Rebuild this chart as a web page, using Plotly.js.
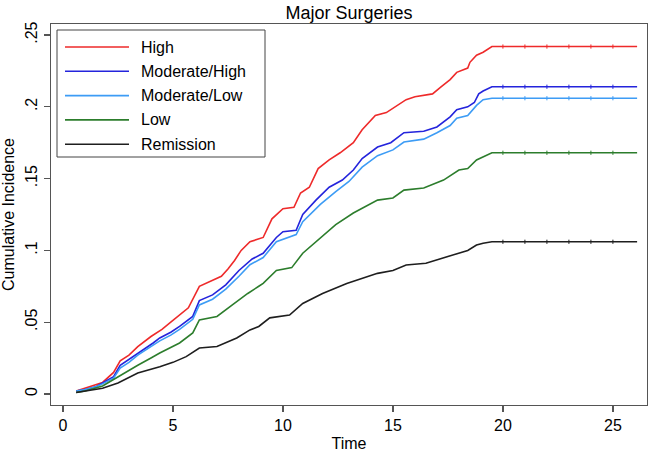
<!DOCTYPE html>
<html>
<head>
<meta charset="utf-8">
<script src="https://cdn.plot.ly/plotly-3.0.1.min.js"></script>
<style>html,body{margin:0;padding:0;background:#fff;}#chart{width:650px;height:454px;}</style>
</head>
<body>
<div id="chart"></div>
<script>
// Series names
var seriesNames = ["High", "Moderate/High", "Moderate/Low", "Low", "Remission"];

// High
var highT = [0.6, 1.0, 1.5, 1.8, 2.3, 2.6, 3.0, 3.4, 4.0, 4.5, 4.9, 5.3, 5.7, 6.2, 6.8, 7.2, 7.5, 7.8, 8.1, 8.5, 9.1, 9.5, 10.0, 10.5, 10.8, 11.2, 11.6, 12.1, 12.6, 13.2, 13.6, 14.2, 14.7, 15.3, 15.6, 16.0, 16.8, 17.2, 17.6, 17.9, 18.4, 18.5, 18.8, 19.1, 19.5, 26.1];
var highV = [0.002, 0.004, 0.006, 0.008, 0.015, 0.023, 0.027, 0.033, 0.040, 0.045, 0.050, 0.055, 0.060, 0.075, 0.079, 0.082, 0.087, 0.093, 0.100, 0.106, 0.109, 0.122, 0.129, 0.130, 0.140, 0.144, 0.157, 0.163, 0.168, 0.175, 0.184, 0.194, 0.196, 0.202, 0.205, 0.207, 0.209, 0.214, 0.219, 0.224, 0.227, 0.231, 0.236, 0.238, 0.242, 0.242];

// Moderate/High
var modHighT = [0.6, 1.0, 1.5, 1.8, 2.3, 2.6, 3.0, 3.4, 4.1, 4.4, 4.9, 5.3, 5.9, 6.2, 6.8, 7.4, 8.0, 8.6, 9.1, 9.7, 10.0, 10.6, 10.9, 11.5, 12.1, 12.7, 13.2, 13.6, 14.3, 14.9, 15.5, 16.4, 17.0, 17.6, 17.9, 18.4, 18.7, 18.9, 19.1, 19.5, 26.1];
var modHighV = [0.002, 0.003, 0.005, 0.0077, 0.012, 0.020, 0.024, 0.0285, 0.0355, 0.039, 0.043, 0.047, 0.054, 0.065, 0.069, 0.076, 0.086, 0.094, 0.098, 0.109, 0.113, 0.114, 0.125, 0.135, 0.144, 0.149, 0.156, 0.164, 0.172, 0.175, 0.182, 0.183, 0.186, 0.193, 0.198, 0.200, 0.203, 0.209, 0.211, 0.214, 0.214];

// Moderate/Low
var modLowT = [0.6, 1.0, 1.5, 1.8, 2.3, 2.6, 3.0, 3.4, 4.1, 4.4, 4.9, 5.3, 5.9, 6.2, 6.8, 7.4, 8.0, 8.5, 9.1, 9.7, 10.6, 10.9, 11.7, 12.4, 13.0, 13.6, 14.3, 15.0, 15.5, 16.4, 17.0, 17.6, 17.9, 18.4, 18.8, 19.1, 19.5, 26.1];
var modLowV = [0.002, 0.003, 0.005, 0.007, 0.011, 0.018, 0.022, 0.027, 0.034, 0.037, 0.041, 0.045, 0.052, 0.062, 0.066, 0.073, 0.082, 0.090, 0.095, 0.106, 0.111, 0.120, 0.132, 0.141, 0.148, 0.158, 0.166, 0.170, 0.1755, 0.1775, 0.182, 0.187, 0.192, 0.194, 0.201, 0.205, 0.206, 0.206];

// Low
var lowT = [0.6, 1.0, 1.8, 2.5, 3.0, 3.4, 4.0, 4.4, 5.3, 5.9, 6.2, 7.0, 7.7, 8.4, 8.9, 9.1, 9.7, 10.4, 10.9, 11.7, 12.4, 13.2, 14.3, 15.0, 15.5, 16.4, 17.3, 18.0, 18.4, 18.8, 19.1, 19.5, 26.1];
var lowV = [0.001, 0.002, 0.0056, 0.012, 0.016, 0.020, 0.025, 0.0285, 0.0355, 0.0425, 0.0515, 0.054, 0.062, 0.070, 0.075, 0.077, 0.086, 0.088, 0.098, 0.109, 0.118, 0.126, 0.135, 0.1365, 0.142, 0.1435, 0.149, 0.156, 0.157, 0.163, 0.165, 0.168, 0.168];

// Remission
var remT = [0.6, 1.0, 1.8, 2.5, 3.4, 4.4, 5.0, 5.6, 6.2, 7.0, 7.9, 8.5, 8.9, 9.4, 10.3, 10.9, 11.8, 12.9, 14.3, 15.0, 15.6, 16.5, 17.45, 18.0, 18.4, 18.8, 19.1, 19.5, 26.1];
var remV = [0.001, 0.002, 0.004, 0.0077, 0.0146, 0.019, 0.022, 0.026, 0.032, 0.033, 0.039, 0.0446, 0.047, 0.053, 0.055, 0.063, 0.070, 0.077, 0.084, 0.086, 0.0898, 0.091, 0.0954, 0.098, 0.100, 0.1037, 0.105, 0.106, 0.106];

// Censoring marks on the flat tails
var censorTimes = [20, 21, 22, 23, 24, 25];

// Axis ticks
var xTickVals = [0, 5, 10, 15, 20, 25];
var xTickText = ["0", "5", "10", "15", "20", "25"];
var yTickVals = [0, 0.05, 0.1, 0.15, 0.2, 0.25];
var yTickText = ["0", ".05", ".1", ".15", ".2", ".25"];

var colors = ["#ee2a2a", "#2424dc", "#3d9cf5", "#2c7d2c", "#1e1e1e"];
var allT = [highT, modHighT, modLowT, lowT, remT];
var allV = [highV, modHighV, modLowV, lowV, remV];

var FONT = "Liberation Sans, Arial, Helvetica, sans-serif";
var traces = [];
for (var i = 0; i < seriesNames.length; i++) {
  traces.push({
    type: "scatter", mode: "lines", name: seriesNames[i],
    x: allT[i], y: allV[i],
    line: {color: colors[i], width: 1.6, shape: "linear"},
    showlegend: false, hoverinfo: "skip"
  });
}
for (var j = 0; j < seriesNames.length; j++) {
  var lastV = allV[j][allV[j].length - 1];
  traces.push({
    type: "scatter", mode: "markers", showlegend: false,
    x: censorTimes, y: censorTimes.map(function(){return lastV;}),
    marker: {symbol: "line-ns", size: 3, line: {color: colors[j], width: 1}},
    hoverinfo: "skip"
  });
}

// Legend drawn in paper coordinates (plot area: x 51..647 px, y 24..405 px)
var PL = 51, PR = 647, PT = 24, PB = 405;
function px(xp) { return (xp - PL) / (PR - PL); }
function py(yp) { return (PB - yp) / (PB - PT); }
var shapes = [{type: "rect", xref: "paper", yref: "paper",
  x0: px(57), x1: px(265), y0: py(157), y1: py(30),
  line: {color: "#444", width: 1}, fillcolor: "#fff", layer: "above"}];
var annotations = [];
var rowY = [47, 71.3, 95.6, 119.9, 144.2];
for (var k = 0; k < seriesNames.length; k++) {
  shapes.push({type: "line", xref: "paper", yref: "paper",
    x0: px(65), x1: px(129), y0: py(rowY[k]), y1: py(rowY[k]),
    line: {color: colors[k], width: 1.6}, layer: "above"});
  annotations.push({xref: "paper", yref: "paper", x: px(139), y: py(rowY[k]),
    xanchor: "left", yanchor: "middle", showarrow: false, text: seriesNames[k],
    font: {family: FONT, size: 16, color: "#000"}});
}

var layout = {
  width: 650, height: 454,
  margin: {l: 51, r: 3, t: 24, b: 49},
  paper_bgcolor: "#fff", plot_bgcolor: "#fff",
  font: {family: FONT, size: 16, color: "#000"},
  title: {text: "Major Surgeries", font: {family: FONT, size: 18, color: "#000"},
          x: 0.5, xref: "paper", y: 0.972, yref: "container", yanchor: "middle"},
  showlegend: false,
  shapes: shapes,
  annotations: annotations,
  xaxis: {range: [-0.545, 26.55], tickvals: xTickVals, ticktext: xTickText,
          showgrid: false, zeroline: false, showline: true, mirror: true,
          linecolor: "#555", linewidth: 1.2, ticks: "outside", ticklen: 6, tickcolor: "#555", tickwidth: 1.2,
          tickfont: {family: FONT, size: 16, color: "#000"},
          title: {text: "Time", font: {family: FONT, size: 16, color: "#000"}, standoff: 4}},
  yaxis: {range: [-0.0077, 0.2577], tickvals: yTickVals, ticktext: yTickText, tickangle: -90,
          showgrid: false, zeroline: false, showline: true, mirror: true,
          linecolor: "#555", linewidth: 1.2, ticks: "outside", ticklen: 6, tickcolor: "#555", tickwidth: 1.2,
          tickfont: {family: FONT, size: 16, color: "#000"},
          title: {text: "Cumulative Incidence", font: {family: FONT, size: 16, color: "#000"}, standoff: 6}}
};

Plotly.newPlot("chart", traces, layout, {displayModeBar: false, staticPlot: true});
</script>
</body>
</html>
